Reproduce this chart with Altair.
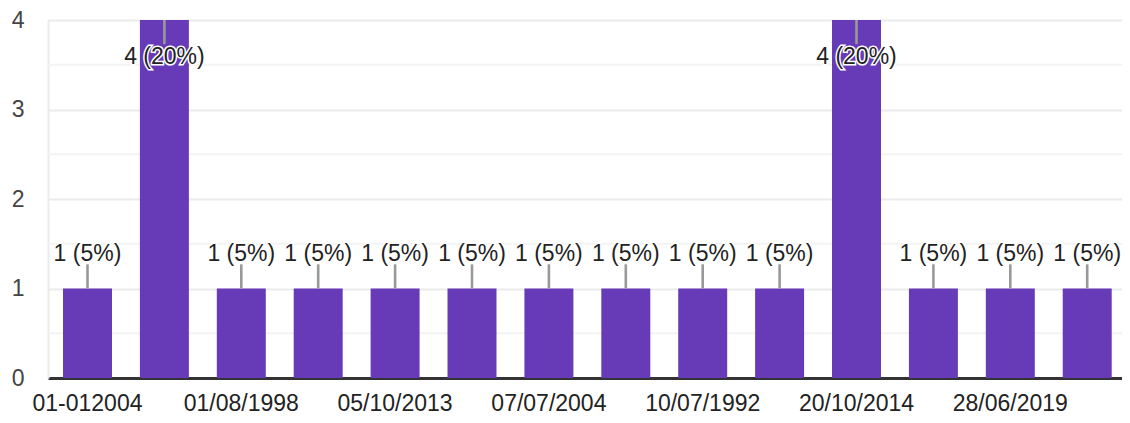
import altair as alt
import pandas as pd

dates = ["01-012004", "01/01/2000", "01/08/1998", "03/03/2003", "05/10/2013",
         "06/06/2006", "07/07/2004", "09/09/1999", "10/07/1992", "15/05/2005",
         "20/10/2014", "25/12/2010", "28/06/2019", "30/01/2001"]
counts = [1, 4, 1, 1, 1, 1, 1, 1, 1, 1, 4, 1, 1, 1]
y_ticks = [0, 1, 2, 3, 4]
minor_ticks = [0.5, 1.5, 2.5, 3.5]

total = sum(counts)
labels = [f"{c} ({round(c * 100 / total)}%)" for c in counts]
df = pd.DataFrame({"date": dates, "count": counts, "label": labels})
minor_df = pd.DataFrame({"v": minor_ticks})

FONT = "Liberation Sans"

xenc = alt.X(
    "date:N", sort=None,
    scale=alt.Scale(paddingInner=0.363, paddingOuter=0.1645, align=0.593),
    axis=alt.Axis(title=None, labelAngle=0, labelOverlap="parity", labelFontSize=23,
                  labelColor="#222222", labelPadding=14, domainColor="#333333",
                  domainWidth=3, ticks=False, labelFont=FONT, grid=False),
)
yscale = alt.Scale(domain=[0, 4], nice=False)
yaxis = alt.Axis(title=None, values=y_ticks, format="d", labelFontSize=23,
                 labelColor="#444444", labelPadding=24, ticks=False, gridColor="#ebebeb",
                 gridWidth=2, domainColor="#ebebeb", domainWidth=2, labelFont=FONT)

minor = alt.Chart(minor_df).mark_rule(color="#f3f3f3", strokeWidth=2).encode(
    y=alt.Y("v:Q", scale=yscale, axis=yaxis)
)

base = alt.Chart(df).transform_joinaggregate(top="max(count)").transform_calculate(
    ly2="datum.count == datum.top ? datum.count - 0.27 : datum.count + 0.27",
    ty="datum.count == datum.top ? datum.count - 0.415 : datum.count + 0.386",
)

bars = base.mark_bar(color="#673ab7").encode(
    x=xenc,
    y=alt.Y("count:Q", scale=yscale, axis=yaxis),
)

leaders = base.mark_rule(color="#999999", strokeWidth=2.6).encode(
    x=alt.X("date:N", sort=None),
    y=alt.Y("count:Q", scale=yscale),
    y2="ly2:Q",
)

halo = base.mark_text(fontSize=23, font=FONT, baseline="middle", align="center",
                      stroke="white", strokeWidth=3, fill="white").encode(
    x=alt.X("date:N", sort=None),
    y=alt.Y("ty:Q", scale=yscale),
    text="label:N",
)
text = base.mark_text(fontSize=23, font=FONT, baseline="middle", align="center",
                      color="#222222").encode(
    x=alt.X("date:N", sort=None),
    y=alt.Y("ty:Q", scale=yscale),
    text="label:N",
)

chart = alt.layer(minor, bars, leaders, halo, text).properties(
    width=1074, height=358,
    autosize=alt.AutoSizeParams(type="none"),
    padding={"left": 40, "top": 12, "right": 0, "bottom": 37},
).configure_view(stroke=None).configure(font=FONT)

chart.save("out.html", embed_options={"renderer": "svg", "actions": False})
